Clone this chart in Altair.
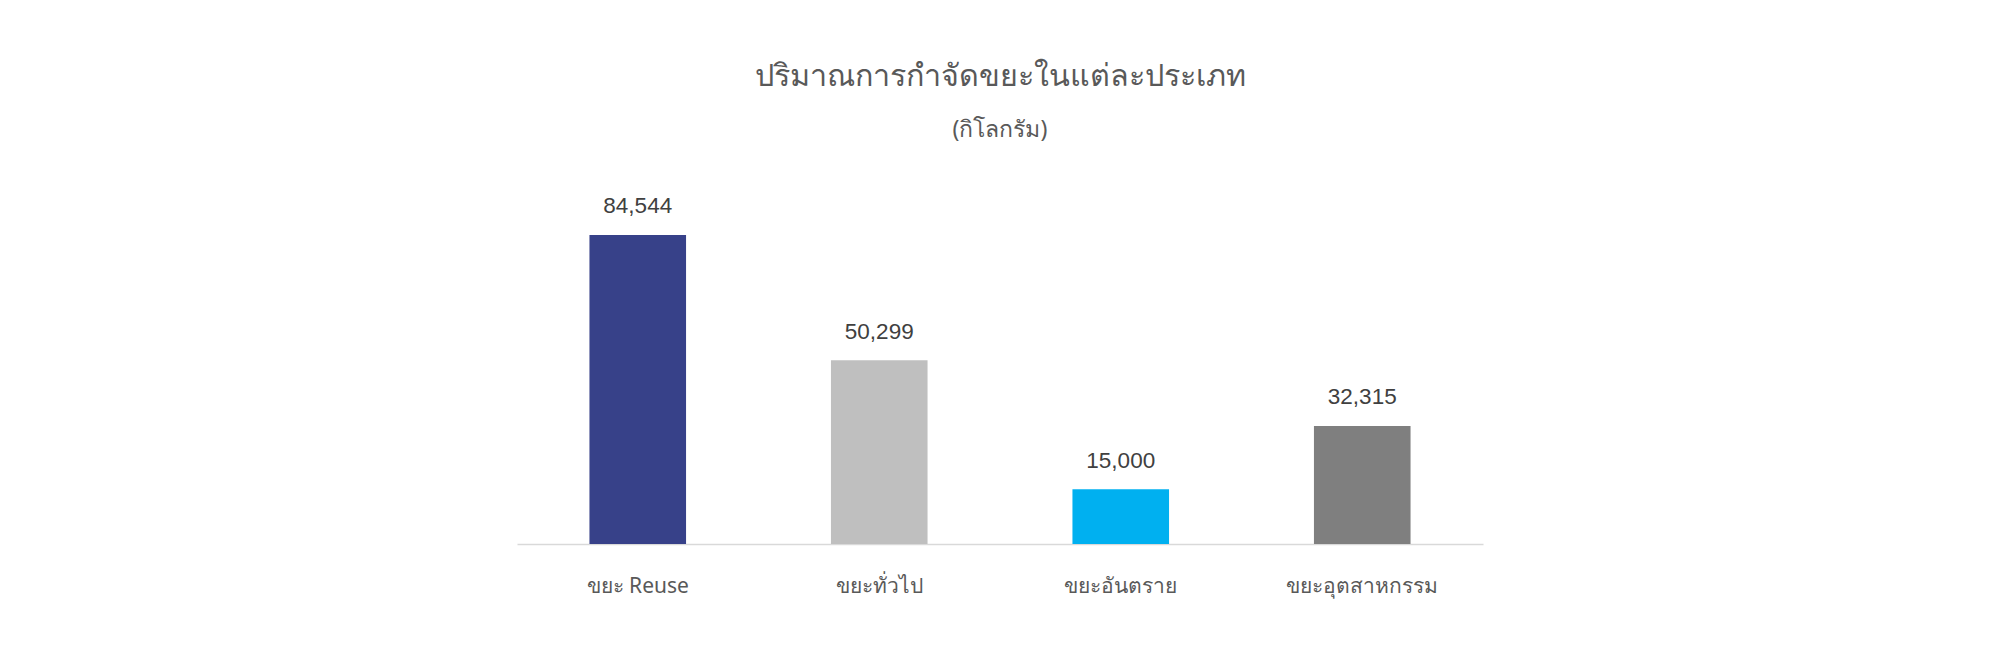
import altair as alt
import pandas as pd

categories = ["ขยะ Reuse", "ขยะทั่วไป", "ขยะอันตราย", "ขยะอุตสาหกรรม"]
values = [84544, 50299, 15000, 32315]
colors = ["#374189", "#BFBFBF", "#00B0F0", "#7F7F7F"]
title_text = "ปริมาณการกำจัดขยะในแต่ละประเภท"
subtitle_text = "(กิโลกรัม)"

df = pd.DataFrame({"cat": categories, "val": values, "color": colors})
df["label"] = [f"{v:,}" for v in values]

FONT = "Noto Sans"

x = alt.X(
    "cat:N",
    sort=categories,
    title=None,
    scale=alt.Scale(paddingInner=0.6, paddingOuter=0.3),
    axis=alt.Axis(
        labelAngle=0,
        labelFontSize=21,
        labelColor="#595959",
        labelFont=FONT,
        labelBaseline="alphabetic",
        labelPadding=48,
        ticks=False,
        tickSize=0,
        domainColor="#D9D9D9",
        domainWidth=1.5,
        grid=False,
    ),
)
y = alt.Y("val:Q", scale=alt.Scale(domain=[0, 100000]), axis=None)

bars = alt.Chart(df).mark_bar().encode(
    x=x, y=y, color=alt.Color("color:N", scale=None)
)
text = alt.Chart(df).mark_text(
    baseline="alphabetic", dy=-21.5, fontSize=22.5, color="#404040", font="Liberation Sans"
).encode(x=alt.X("cat:N", sort=categories), y="val:Q", text="label:N")

chart = (
    alt.layer(bars, text)
    .properties(
        width=966,
        height=365.5,
        title=alt.TitleParams(
            text=title_text,
            subtitle=subtitle_text,
            anchor="middle",
            fontSize=30.5,
            font=FONT,
            fontWeight="normal",
            color="#595959",
            subtitleFontSize=23,
            subtitleFont=FONT,
            subtitleColor="#595959",
            subtitlePadding=26,
            offset=37,
        ),
        padding={"left": 509, "top": 170.5, "right": 10, "bottom": 100},
        autosize=alt.AutoSizeParams(type="none"),
    )
    .configure_view(stroke=None)
)

chart.save("out.html", embed_options={"renderer": "svg", "actions": False})
